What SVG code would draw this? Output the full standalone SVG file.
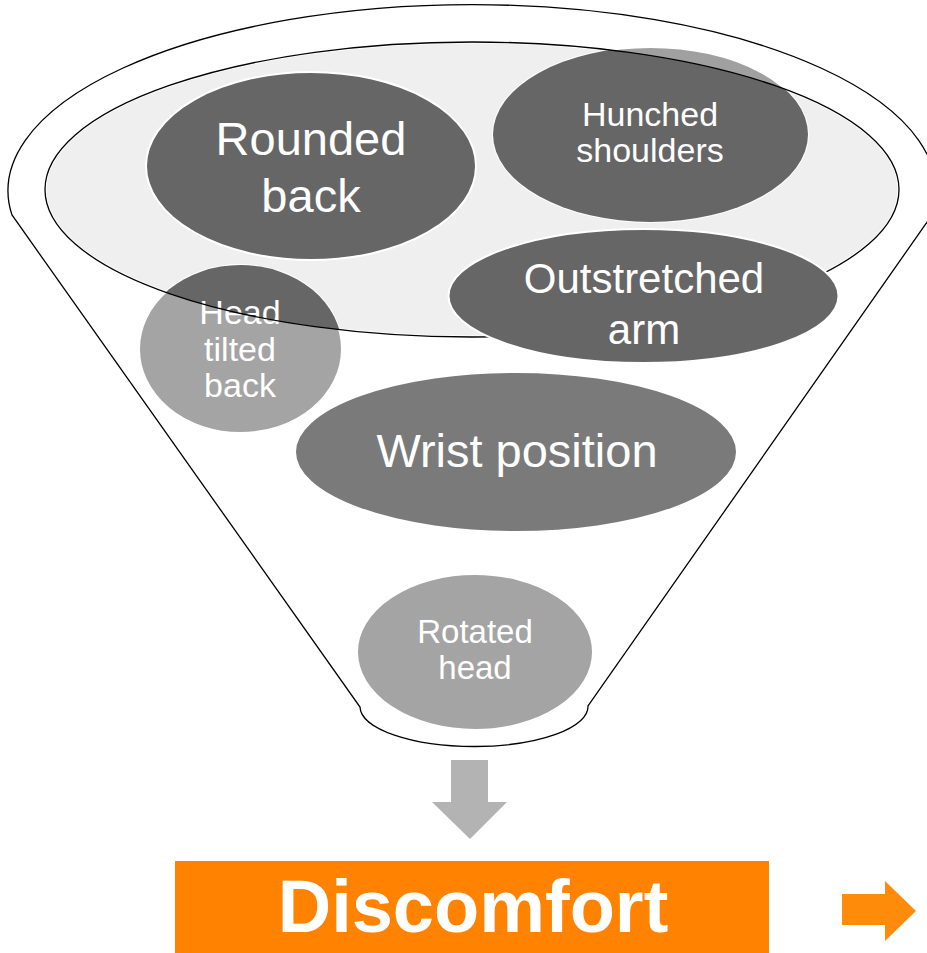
<svg xmlns="http://www.w3.org/2000/svg" width="927" height="953" viewBox="0 0 927 953">
<defs>
<style>
.txt{font-family:"Liberation Sans",Arial,sans-serif;fill:#fff;text-anchor:middle}
.dark{fill:#666666;stroke:#fff;stroke-width:2}
.mid{fill:#7a7a7a;stroke:#fff;stroke-width:2}
.light{fill:#a4a4a4;stroke:#fff;stroke-width:2}
.outline{fill:none;stroke:#000;stroke-width:1.3}
</style>
<clipPath id="innerClip"><ellipse cx="472" cy="189.5" rx="427" ry="147.5"/></clipPath>
</defs>
<rect width="927" height="953" fill="#fff"/>
<g id="funnel">
<path d="M 12 215 A 464 186 0 1 1 932 215 L 588 706 A 114 40 0 0 1 360 707 Z" fill="#fff" stroke="#000" stroke-width="1.3"/>
<ellipse cx="472" cy="189.5" rx="427" ry="147.5" fill="#efefef" stroke="#fff" stroke-width="3"/>
</g>
<g id="node-rounded-back">
<ellipse class="dark" cx="311" cy="166" rx="165" ry="94"/>
<text class="txt" font-size="47" x="311" y="155">Rounded</text>
<text class="txt" font-size="47" x="311" y="212">back</text>
</g>
<g id="node-hunched-shoulders">
<ellipse cx="650.5" cy="134.5" rx="157.5" ry="87.5" fill="#a0a0a0" stroke="#fff" stroke-width="2"/>
<ellipse cx="650.5" cy="134.5" rx="157.5" ry="87.5" fill="#666666" clip-path="url(#innerClip)"/>
<text class="txt" font-size="34" x="650" y="126">Hunched</text>
<text class="txt" font-size="34" x="650" y="162">shoulders</text>
</g>
<g id="node-head-tilted-back">
<ellipse class="light" cx="240.5" cy="349" rx="101.5" ry="84"/>
<ellipse cx="240.5" cy="349" rx="101.5" ry="84" fill="#666666" clip-path="url(#innerClip)"/>
<text class="txt" font-size="34" x="240" y="324">Head</text>
<text class="txt" font-size="34" x="240" y="361">tilted</text>
<text class="txt" font-size="34" x="240" y="397">back</text>
</g>
<ellipse class="outline" cx="472" cy="189.5" rx="427" ry="147.5"/>
<g id="node-outstretched-arm">
<ellipse class="dark" cx="643.5" cy="296" rx="195" ry="67"/>
<text class="txt" font-size="42" x="644" y="293">Outstretched</text>
<text class="txt" font-size="42" x="644" y="344">arm</text>
</g>
<g id="node-wrist-position">
<ellipse class="mid" cx="516" cy="452" rx="221" ry="80"/>
<text class="txt" font-size="47" x="517" y="467">Wrist position</text>
</g>
<g id="node-rotated-head">
<ellipse class="light" cx="475" cy="652" rx="118" ry="78"/>
<text class="txt" font-size="33" x="475" y="643">Rotated</text>
<text class="txt" font-size="33" x="475" y="679">head</text>
</g>
<g id="connectors">
<polygon points="451,760 488,760 488,802 507,802 470,839 432,802 451,802" fill="#b3b3b3"/>
<polygon points="842,894 885,894 885,881 916,911 885,941 885,925 842,925" fill="#ff8b0a"/>
</g>
<g id="node-discomfort">
<rect x="175" y="861" width="594" height="92" fill="#ff8200"/>
<text class="txt" font-size="74" font-weight="bold" x="473" y="932">Discomfort</text>
</g>
</svg>
